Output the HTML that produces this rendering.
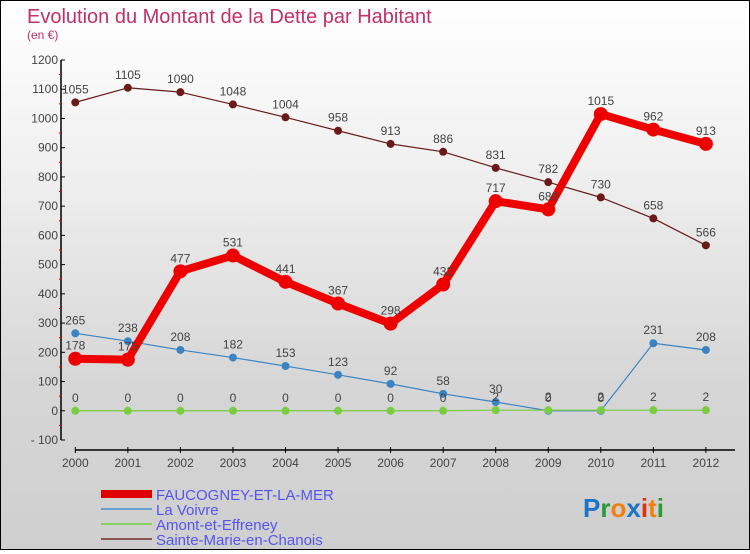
<!DOCTYPE html>
<html><head><meta charset="utf-8"><style>
html,body{margin:0;padding:0}
body{width:750px;height:550px;overflow:hidden;font-family:"Liberation Sans",sans-serif}
#wrap{position:relative;width:748px;height:548px;border:1px solid #000;background:linear-gradient(#fff 0%,#f0f0f0 30%,#d6d6d6 70%,#cfcfcf 100%)}
</style></head><body>
<div id="wrap">
<svg id="chart" width="748" height="548" xmlns="http://www.w3.org/2000/svg">
<text x="26" y="22" font-size="20" fill="#c0306a">Evolution du Montant de la Dette par Habitant</text>
<text x="26" y="38" font-size="12" fill="#c0306a">(en €)</text>
<g id="axes"></g><g id="series"></g>
<g>
<rect x="100" y="489" width="51" height="8" fill="#e00000"/>
<text x="155" y="499" font-size="15" fill="#5555ee">FAUCOGNEY-ET-LA-MER</text>
<rect x="100" y="507" width="51" height="2" fill="#6a9fd0"/>
<text x="155" y="514" font-size="15" fill="#5555ee">La Voivre</text>
<rect x="100" y="522" width="51" height="2" fill="#88d060"/>
<text x="155" y="529" font-size="15" fill="#5555ee">Amont-et-Effreney</text>
<rect x="100" y="537" width="51" height="2" fill="#8a5555"/>
<text x="155" y="544" font-size="15" fill="#5555ee">Sainte-Marie-en-Chanois</text>
</g>
<g font-size="26" font-weight="bold" font-family="'Liberation Sans',sans-serif">
<text x="582" y="516"><tspan fill="#1a74c8">P</tspan><tspan fill="#2a9a3a">r</tspan><tspan fill="#f08010">o</tspan><tspan fill="#1a74c8">x</tspan><tspan fill="#e03010">i</tspan><tspan fill="#f08010">t</tspan><tspan fill="#2a9a3a">i</tspan></text>
</g>
</svg>
</div>
<script>
const years=[2000,2001,2002,2003,2004,2005,2006,2007,2008,2009,2010,2011,2012];
const yTicks=[-100,0,100,200,300,400,500,600,700,800,900,1000,1100,1200];
const faucogney=[178,175,477,531,441,367,298,432,717,689,1015,962,913];
const laVoivre=[265,238,208,182,153,123,92,58,30,0,0,231,208];
const amont=[0,0,0,0,0,0,0,0,2,2,2,2,2];
const sainteMarie=[1055,1105,1090,1048,1004,958,913,886,831,782,730,658,566];
const NS="http://www.w3.org/2000/svg";
const xS=i=>74.3+i*52.55;
const yS=v=>439-(v+100)*(380/1300);
function mk(tag,attrs,parent){const e=document.createElementNS(NS,tag);for(const k in attrs)e.setAttribute(k,attrs[k]);parent.appendChild(e);return e;}
const ax=document.getElementById('axes'),sg=document.getElementById('series');
let l=mk('line',{x1:60,y1:yS(1200),x2:60,y2:yS(-100),stroke:'#000','stroke-width':1.5},ax);


l=mk('line',{x1:74,y1:449,x2:734,y2:449,stroke:'#000','stroke-width':1.5},ax);


yTicks.forEach((t,i)=>{
  mk('line',{x1:60,y1:yS(t),x2:64,y2:yS(t),stroke:'#000'},ax);
  if(i<yTicks.length-1)mk('line',{x1:58,y1:yS(t+50),x2:61,y2:yS(t+50),stroke:'#e00000'},ax);
  const tx=mk('text',{x:57,y:yS(t)+4,'font-size':12,fill:'#444','text-anchor':'end'},ax);
  tx.textContent=t<0?'- '+(-t):t;
  
  
});
years.forEach((y,i)=>{
  mk('line',{x1:xS(i),y1:446,x2:xS(i),y2:452,stroke:'#000'},ax);
  const tx=mk('text',{x:xS(i),y:466,'font-size':12,fill:'#444','text-anchor':'middle'},ax);
  tx.textContent=y;
  
  
});
function series(vals,color,lw,r,name){
  const g=mk('g',{},sg);
  
  
  const p=mk('polyline',{points:vals.map((v,i)=>xS(i)+','+yS(v)).join(' '),fill:'none',stroke:color,'stroke-width':lw,'stroke-linejoin':'round'},g);
  
  
  vals.forEach((v,i)=>{
    const c=mk('circle',{cx:xS(i),cy:yS(v),r:r,fill:color},g);
    
    
    const t=mk('text',{x:xS(i),y:yS(v)-9,'font-size':12,fill:'#444','text-anchor':'middle'},g);
    t.textContent=v;
    
    
  });
}
series(sainteMarie,'#6b1a1a',1.2,4,'sainte-marie');
series(laVoivre,'#3a84c4',1.2,4,'la-voivre');
series(amont,'#7acc40',1.2,4,'amont');
series(faucogney,'#ee0000',8,7,'faucogney');
</script>
</body></html>
